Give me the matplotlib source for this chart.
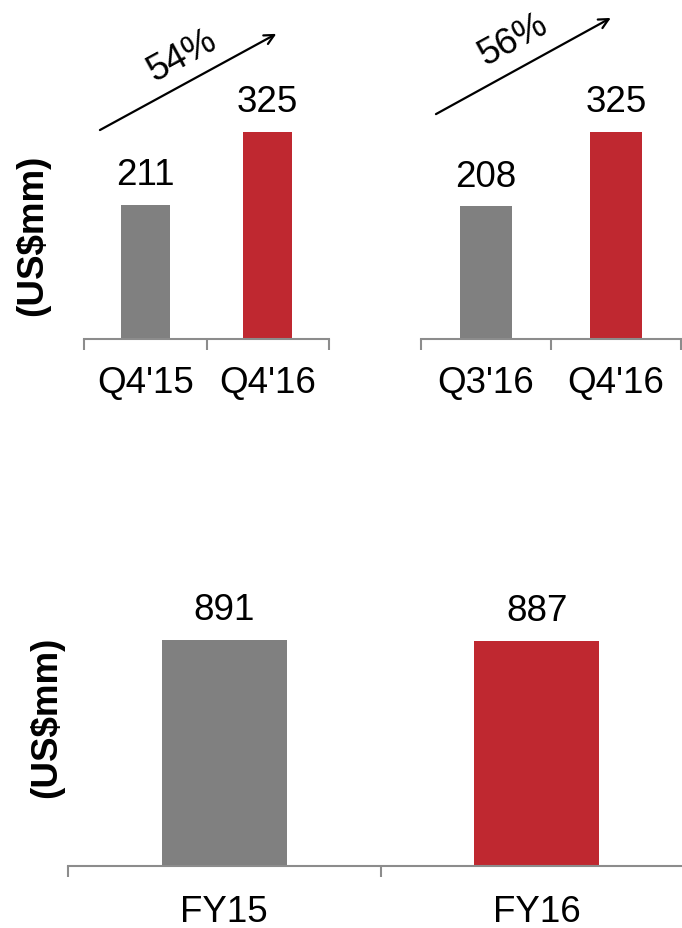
import matplotlib.pyplot as plt
import matplotlib.ticker as mticker

plt.rcParams["font.family"] = ["Liberation Sans", "DejaVu Sans"]

GREY = "#808080"
RED = "#BF2830"
AXIS_GREY = "#8C8C8C"

# quarter vs. same quarter last year
yoy_labels = ["Q4'15", "Q4'16"]
yoy_values = [211, 325]
yoy_growth = "54%"

# quarter vs. previous quarter
qoq_labels = ["Q3'16", "Q4'16"]
qoq_values = [208, 325]
qoq_growth = "56%"

# full year
fy_labels = ["FY15", "FY16"]
fy_values = [891, 887]

FS = 26.5

W, H = 682, 929
fig = plt.figure(figsize=(W / 100, H / 100), dpi=100)


def px_axes(left, right, bottom, top):
    # axes placed by pixel edges (origin top-left)
    return fig.add_axes([left / W, (H - bottom) / H, (right - left) / W, (bottom - top) / H])


def bar_panel(ax, labels, values, ymax, label_pad):
    x = range(len(values))
    ax.bar(x, values, width=0.4, color=[GREY, RED], zorder=2)
    ax.set_xlim(-0.5, len(values) - 0.5)
    ax.set_ylim(0, ymax)
    for s in ["top", "right", "left"]:
        ax.spines[s].set_visible(False)
    ax.spines["bottom"].set_color(AXIS_GREY)
    ax.spines["bottom"].set_linewidth(1.5)
    ax.set_yticks([])
    ax.set_xticks(list(x))
    ax.set_xticklabels(labels, fontsize=FS)
    ax.tick_params(axis="x", which="major", length=0, pad=label_pad)
    ax.xaxis.set_minor_locator(mticker.FixedLocator([i - 0.5 for i in range(len(values) + 1)]))
    ax.tick_params(axis="x", which="minor", length=8, width=1.5, color=AXIS_GREY)
    for i, v in enumerate(values):
        ax.annotate(f"{v}", (i, v), xytext=(0, 15), textcoords="offset points",
                    ha="center", va="baseline", fontsize=FS)


def growth_arrow(ax, start, end, text, text_xy, angle):
    ax.annotate("", xy=end, xytext=start, annotation_clip=False,
                arrowprops=dict(arrowstyle="->,head_length=0.7,head_width=0.35",
                                color="black", lw=1.6, shrinkA=0, shrinkB=0))
    ax.text(*text_xy, text, fontsize=FS, rotation=angle, rotation_mode="anchor",
            ha="center", va="center", clip_on=False)


ax1 = px_axes(84, 329, 340, 10)
bar_panel(ax1, yoy_labels, yoy_values, 518, 18.5)
growth_arrow(ax1, (-0.37, 328), (1.07, 479), yoy_growth, (0.30, 445), 28.6)

ax2 = px_axes(421, 681, 340, 10)
bar_panel(ax2, qoq_labels, qoq_values, 518, 18.5)
growth_arrow(ax2, (-0.385, 353), (0.96, 504), qoq_growth, (0.21, 471), 28.6)

ax3 = px_axes(68, 693, 867, 560)
bar_panel(ax3, fy_labels, fy_values, 1210, 20)

fig.text(33 / W, (H - 235) / H, "(US$mm)", rotation=90, fontsize=FS,
         fontweight="bold", ha="center", va="center")
fig.text(47 / W, (H - 717) / H, "(US$mm)", rotation=90, fontsize=FS,
         fontweight="bold", ha="center", va="center")

fig.savefig("out.png", dpi=100)
